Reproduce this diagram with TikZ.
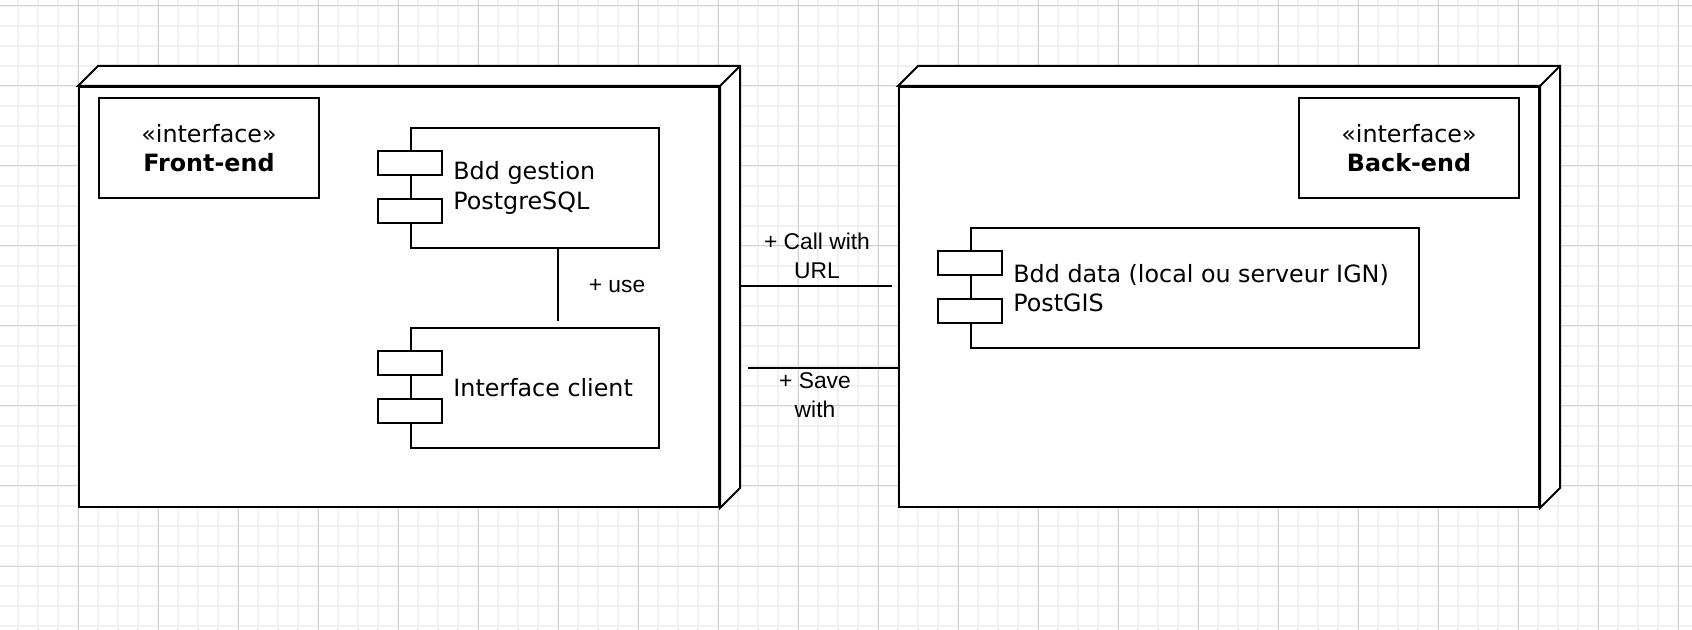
\documentclass[tikz,border=0pt]{standalone}
\usepackage{fontspec}
\setmainfont{DejaVu Sans}
\newfontfamily\arialfont{Liberation Sans}
\usetikzlibrary{calc}
\definecolor{gridminor}{HTML}{F1F1F1}
\definecolor{gridmajor}{HTML}{D3D3D3}
\begin{document}
\begin{tikzpicture}[x=0.5pt,y=-0.5pt,
  minorline/.style={draw=gridminor, line width=0.8pt},
  majorline/.style={draw=gridmajor, line width=0.5pt},
  nodeline/.style={draw=black, line width=1pt, line join=miter},
  face/.style={nodeline, fill=white, minimum width=320pt, minimum height=210pt, inner sep=0pt, anchor=north west},
  iface/.style={nodeline, fill=white, minimum width=110pt, minimum height=50pt, inner sep=0pt, align=center, anchor=north west, font=\fontsize{11.9}{14.3}\selectfont},
  comp/.style={nodeline, fill=white, minimum height=60pt, inner sep=0pt, anchor=north west},
  port/.style={nodeline, fill=white, minimum width=32pt, minimum height=12pt, inner sep=0pt},
  comptext/.style={font=\fontsize{11.9}{14.6}\selectfont, align=left, inner sep=0pt, anchor=west},
  lbl/.style={font=\arialfont\fontsize{11.4}{14.5}\selectfont, align=center, inner sep=0pt},
  conn/.style={draw=black, line width=1pt}
]
\useasboundingbox (0,0) rectangle (1692,630);
\fill[white] (0,0) rectangle (1692,630);
% grid
\foreach \x in {18,38,...,1678} \draw[minorline] (\x,0) -- (\x,630);
\foreach \y in {6,26,...,626} \draw[minorline] (0,\y) -- (1692,\y);
\foreach \x in {78,158,...,1678} \draw[majorline] (\x,0) -- (\x,630);
\foreach \y in {6,86,...,566} \draw[majorline] (0,\y) -- (1692,\y);

% Front-end node
\node[face] (fe) at (78,86) {};
\filldraw[nodeline, fill=white] (fe.north west) -- ++(20,-20) -- ($(fe.north east)+(20,-20)$) -- ($(fe.south east)+(20,-20)$) -- (fe.south east) -- (fe.north east) -- cycle;
\draw[nodeline] (fe.north east) -- ++(20,-20);

% Back-end node
\node[face] (be) at (898,86) {};
\filldraw[nodeline, fill=white] (be.north west) -- ++(20,-20) -- ($(be.north east)+(20,-20)$) -- ($(be.south east)+(20,-20)$) -- (be.south east) -- (be.north east) -- cycle;
\draw[nodeline] (be.north east) -- ++(20,-20);

% interfaces
\node[iface] (ifront) at (98,97) {«interface»\\\textbf{Front-end}};
\node[iface] (iback) at (1298,97) {«interface»\\\textbf{Back-end}};

% components
\node[comp, minimum width=124pt] (bdd) at (410,127) {};
\node[port] (bddp1) at ($(bdd.north west)+(0,36)$) {};
\node[port] (bddp2) at ($(bdd.north west)+(0,84)$) {};
\node[comptext] (bddtxt) at ($(bdd.west)+(43,0)$) {Bdd gestion\\PostgreSQL};

\node[comp, minimum width=124pt] (cli) at (410,327) {};
\node[port] (clip1) at ($(cli.north west)+(0,36)$) {};
\node[port] (clip2) at ($(cli.north west)+(0,84)$) {};
\node[comptext] (clitxt) at ($(cli.west)+(43,0)$) {Interface client};

\node[comp, minimum width=224pt] (data) at (970,227) {};
\node[port] (datap1) at ($(data.north west)+(0,36)$) {};
\node[port] (datap2) at ($(data.north west)+(0,84)$) {};
\node[comptext] (datatxt) at ($(data.west)+(43,0)$) {Bdd data (local ou serveur IGN)\\PostGIS};

% use connector
\coordinate (u1) at ($(bdd.south)+(23,0)$);
\coordinate (u2) at ($(cli.north)+(23,-6)$);
\draw[conn] (u1) -- (u2);
\node[lbl, anchor=base] (uselbl) at (617,293) {+ use};

% front/back connectors
\coordinate (c1s) at ($(fe.east)+(20,-11)$);
\coordinate (c1e) at ($(be.west)+(-6,-11)$);
\draw[conn] (c1s) -- (c1e);
\node[lbl, anchor=base] (calllbl) at (817,279) {+ Call with\\URL};

\coordinate (c2s) at ($(fe.east)+(28,71)$);
\draw[conn] (c2s) -- (c2s -| be.west);
\node[lbl, anchor=base] (savelbl) at (815,418) {+ Save\\with};
\end{tikzpicture}
\end{document}
